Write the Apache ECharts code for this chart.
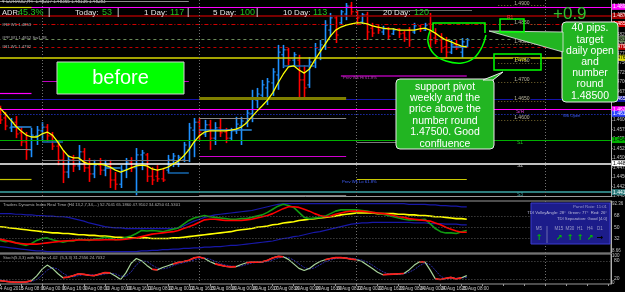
<!DOCTYPE html>
<html>
<head>
<meta charset="utf-8">
<script src="https://cdn.jsdelivr.net/npm/echarts@6/dist/echarts.min.js"></script>
<style>html,body{margin:0;padding:0;background:#000;}#main{width:625px;height:292px;}</style>
</head>
<body>
<div id="main"></div>
<script>
var charts = echarts.init(document.getElementById('main'));

// H4 bars, 4 Aug 16:00 .. 25 Aug 12:00
const xTickLabels = ['4 Aug 2016', '5 Aug 08:00', '8 Aug 00:00', '8 Aug 16:00', '9 Aug 08:00', '10 Aug 00:00', '10 Aug 16:00', '11 Aug 08:00', '12 Aug 00:00', '12 Aug 16:00', '15 Aug 08:00', '16 Aug 00:00', '16 Aug 16:00', '17 Aug 08:00', '18 Aug 00:00', '18 Aug 16:00', '19 Aug 08:00', '22 Aug 00:00', '22 Aug 16:00', '23 Aug 08:00', '24 Aug 00:00', '24 Aug 16:00', '25 Aug 08:00'];

const openP = [1.4626,1.4605,1.4579,1.4594,1.4566,1.4542,1.4521,1.4558,1.4571,1.4581,
  1.4558,1.4531,1.4495,1.4463,1.4495,1.4479,1.4516,1.4474,1.4458,1.4481,
  1.4468,1.4481,1.4442,1.4431,1.4468,1.4489,1.4474,1.4508,1.4508,1.4452,
  1.4452,1.4445,1.4468,1.4495,1.4489,1.4495,1.4521,1.4573,1.4594,1.4563,
  1.4587,1.4552,1.4579,1.4568,1.4552,1.4571,1.4584,1.4594,1.4616,1.4652,
  1.4665,1.4684,1.4697,1.4718,1.4771,1.4784,1.4757,1.4757,1.4705,1.4692,
  1.4750,1.4784,1.4794,1.4836,1.4868,1.4855,1.4878,1.4899,1.4884,1.4857,
  1.4876,1.4841,1.4844,1.4831,1.4841,1.4826,1.4839,1.4828,1.4836,1.4831,
  1.4847,1.4836,1.4852,1.4815,1.4810,1.4792,1.4778,1.4797,1.4778,1.4794];
const highP = [1.4637,1.4621,1.4605,1.4610,1.4581,1.4568,1.4579,1.4584,1.4594,1.4589,
  1.4568,1.4547,1.4521,1.4508,1.4508,1.4534,1.4526,1.4500,1.4495,1.4500,
  1.4495,1.4495,1.4463,1.4481,1.4500,1.4502,1.4526,1.4521,1.4513,1.4476,
  1.4481,1.4474,1.4508,1.4513,1.4508,1.4542,1.4592,1.4605,1.4605,1.4600,
  1.4600,1.4594,1.4605,1.4579,1.4579,1.4608,1.4608,1.4626,1.4679,1.4684,
  1.4705,1.4710,1.4736,1.4797,1.4797,1.4789,1.4778,1.4771,1.4744,1.4765,
  1.4802,1.4810,1.4862,1.4881,1.4873,1.4889,1.4907,1.4910,1.4889,1.4881,
  1.4884,1.4855,1.4849,1.4847,1.4844,1.4841,1.4841,1.4834,1.4844,1.4855,
  1.4849,1.4855,1.4881,1.4841,1.4828,1.4818,1.4810,1.4810,1.4815,1.4815];
const lowP = [1.4589,1.4573,1.4568,1.4552,1.4531,1.4495,1.4502,1.4534,1.4547,1.4542,
  1.4521,1.4481,1.4434,1.4447,1.4463,1.4468,1.4463,1.4437,1.4447,1.4455,
  1.4452,1.4421,1.4416,1.4421,1.4447,1.4463,1.4402,1.4468,1.4437,1.4429,
  1.4437,1.4437,1.4460,1.4476,1.4476,1.4489,1.4489,1.4502,1.4547,1.4555,
  1.4521,1.4534,1.4555,1.4539,1.4547,1.4563,1.4534,1.4581,1.4594,1.4631,
  1.4652,1.4639,1.4663,1.4679,1.4736,1.4744,1.4742,1.4660,1.4660,1.4684,
  1.4736,1.4757,1.4784,1.4818,1.4802,1.4849,1.4862,1.4876,1.4849,1.4852,
  1.4810,1.4818,1.4826,1.4823,1.4810,1.4823,1.4815,1.4805,1.4792,1.4826,
  1.4831,1.4834,1.4789,1.4799,1.4776,1.4763,1.4773,1.4784,1.4763,1.4792];
const closeP = [1.4600,1.4584,1.4594,1.4563,1.4542,1.4521,1.4560,1.4573,1.4581,1.4558,
  1.4531,1.4495,1.4463,1.4495,1.4479,1.4516,1.4474,1.4458,1.4481,1.4468,
  1.4481,1.4442,1.4431,1.4468,1.4489,1.4474,1.4508,1.4513,1.4452,1.4442,
  1.4445,1.4442,1.4495,1.4505,1.4502,1.4534,1.4579,1.4594,1.4568,1.4587,
  1.4552,1.4579,1.4566,1.4552,1.4571,1.4589,1.4597,1.4618,1.4658,1.4668,
  1.4692,1.4700,1.4726,1.4778,1.4784,1.4757,1.4771,1.4705,1.4684,1.4752,
  1.4789,1.4797,1.4849,1.4868,1.4823,1.4884,1.4899,1.4884,1.4868,1.4876,
  1.4831,1.4828,1.4836,1.4839,1.4820,1.4836,1.4826,1.4815,1.4810,1.4847,
  1.4839,1.4849,1.4810,1.4807,1.4789,1.4778,1.4797,1.4789,1.4805,1.4810];
const maP = [1.4631,1.4616,1.4600,1.4584,1.4571,1.4560,1.4555,1.4555,1.4563,1.4568,
  1.4560,1.4542,1.4521,1.4505,1.4500,1.4500,1.4489,1.4484,1.4484,1.4484,
  1.4481,1.4476,1.4468,1.4463,1.4468,1.4474,1.4479,1.4481,1.4479,1.4471,
  1.4468,1.4471,1.4476,1.4484,1.4492,1.4505,1.4521,1.4542,1.4558,1.4568,
  1.4571,1.4571,1.4571,1.4571,1.4573,1.4576,1.4581,1.4592,1.4608,1.4623,
  1.4637,1.4652,1.4671,1.4697,1.4720,1.4739,1.4742,1.4731,1.4723,1.4734,
  1.4757,1.4778,1.4799,1.4820,1.4836,1.4844,1.4849,1.4852,1.4855,1.4855,
  1.4852,1.4847,1.4844,1.4841,1.4839,1.4839,1.4836,1.4836,1.4836,1.4836,
  1.4839,1.4841,1.4836,1.4828,1.4818,1.4810,1.4805,1.4799,1.4794,1.4792];

// pivot / level lines across the whole chart
const levelPrices = [1.4897, 1.4873, 1.4852, 1.4812, 1.4792, 1.4763, 1.4655, 1.4628, 1.4616, 1.4547, 1.4486, 1.4410];
// short lines: [from bar, to bar, price]
const segLevels = [[0,6,1.4897],[0,6,1.4671],[0,6,1.4523],[0,6,1.4445],[8,36,1.4702],[8,36,1.4495],
  [38,66,1.4658],[38,66,1.4605],[38,66,1.4505],[38,66,1.4402],[65,89,1.4715],[68,89,1.4445],[68,76,1.4542],[68,90,1.4889],[0,36,1.4912]];
const dailyOpen = [[2,6,1.4581],[8,12,1.4542],[20,23,1.4474],[32,36,1.4460],[38,48,1.4573],[54,60,1.4742],[86,89,1.4792]];
const roundNumbers = [1.4900, 1.4850, 1.4800, 1.4750, 1.4700, 1.4650, 1.4600];
const weekBars = [8, 38, 68, 104];

// Traders Dynamic Index
const tdiGreen = [29,27,28,25,23,21,24,29,32,33, 30,28,26,28,28,31,30,29,31,32,
  34,33,30,31,34,36,40,45,44,45, 44,43,45,47,49,55,61,65,67,69,
  67,66,65,64,63,63,64,64,66,68, 70,74,79,84,87,85,82,74,66,64,
  65,66,68,72,76,78,78,78,78,77, 76,74,73,71,69,67,65,63,62,62,
  62,63,56,48,43,41,41,40,43,45];
const tdiRed = [31,29,27,25,24,23,23,23,24,25, 26,27,28,28.5,29,29.5,29.5,29.5,29.5,29.5,
  30,30,30,30,31,32,33,35,37,39, 40,41,42,43,45,48,51,54,58,62,
  63,63,62,61,61,61,61,62,63,65, 67,69,72,76,80,83,83,82,79,76,
  72,69,67,68,71,73,75,76,76,76, 75,74,73,72,71,69,67,66,64,63,
  62,61,60,57,54,50,47,44,42,42];
const tdiYellow = [51,50,49,48,47,46,45,44,43,42, 41,41,40,40,39,38,38,37,37,36,
  36,35,34,34,33,33,33,33,33,32, 32,32,32,33,33,34,35,36,37,38,
  39,40,41,42,43,45,46,47,48,50, 51,52,54,55,57,58,59,61,62,63,
  64,65,66,67,68,70,71,72,73,73, 73,73,72,72,72,72,71,71,70,70,
  69,69,68,67,67,66,65,64,64,63];
const tdiUpper = [72,72,72,71,71,70,70,69,69,68, 68,67,67,66,64,62,60,57,55,53,
  51,50,49,49,48,48,48,48,48,48, 48,48,48,48,49,52,56,60,63,66,
  68,70,71,72,73,74,75,76,77,79, 81,83,85,87,88,88,88,88,88,88,
  88,88,88,88,88,88,88,88,88,88, 88,88,88,88,88,88,88,88,87,87,
  87,87,86,86,85,85,84,84,83,83];
const tdiLower = [19,18,17,16,15,14,13,12,12,11, 11,11,11,11,11,11,11,11,11,11,
  11,11,11,11,11,11,11,12,12,13, 13,14,14,15,15,16,16,17,17,18,
  18,19,19,20,21,21,22,23,24,25, 26,27,28,30,32,33,35,36,38,40,
  42,43,45,47,49,51,53,55,56,57, 57,58,58,58,58,58,58,58,58,57,
  57,57,56,56,56,55,55,55,54,54];
const tdiLevels = [32, 50, 68];

// Stochastic
const stochK = [14,12,10,9,9,10,14,30,52,66, 55,38,24,26,31,37,35,32,31,36,
  41,40,30,18,40,72,88,80,65,52, 50,58,64,70,75,78,82,90,93,88,
  78,70,66,62,60,61,68,74,76,76, 77,82,90,95,94,85,70,55,48,55,
  68,78,84,88,91,91,89,86,84,78, 66,55,42,34,35,36,37,38,50,66,
  77,77,50,20,18,22,25,20,24,31];
const stochD = [16,14,12,10,9,9,11,18,32,49, 58,53,39,29,27,31,34,35,33,33,
  36,39,37,29,29,43,67,80,78,66, 56,53,57,64,70,74,78,83,88,90,
  86,79,71,66,63,61,63,68,73,75, 76,78,83,89,93,91,83,70,58,53,
  57,67,77,83,88,90,90,89,86,83, 76,66,54,44,37,35,36,37,42,51,
  64,73,68,49,29,20,22,22,23,25];
const stochLevels = [20, 80];

const barCount = 117;
const cats = [];
for (let i = 0; i < barCount; i++) cats.push('b' + i);

const ohlc = openP.map((o, i) => [i, o, closeP[i], lowP[i], highP[i]]);

const levelColors = ['#ff00ff', '#a00000', '#d00000', '#6a8a5a', '#c00000', '#d8d800', '#1414a8', '#ff00ff', '#2a40ff', '#00b000', '#ffffff', '#2e7d7d'];
const levelTypes = ['solid', 'solid', [4, 2, 1, 2], [3, 3], [3, 3], 'solid', 'solid', 'solid', [1, 2], 'solid', 'solid', 'solid'];
const levelWidths = [1.2, 1.5, 1, 1, 1, 1.5, 1, 1.2, 1, 1.2, 1.5, 2];
const levelText = ['#fff', '#fff', '#fff', '#000', '#fff', '#000', '#fff', '#fff', '#fff', '#000', '#000', '#fff'];
const segColors = ['#d8d800', '#ff00ff', '#8a8a8a', '#c8c800', '#c000c0', '#7a7a7a', '#7f7f00', '#8a8a8a', '#d000d0', '#7a7a7a', '#800080', '#c8c800', '#7a7a7a', '#6a6a6a', '#8a8a8a'];
const segWidths = [1.2, 1.2, 1, 1.2, 1.2, 1.2, 3, 1.2, 1.2, 1.2, 2, 1.2, 1, 1, 1];

var mainLines = [];
levelPrices.forEach(function (p, i) {
  mainLines.push({
    yAxis: p,
    lineStyle: {color: levelColors[i], type: levelTypes[i], width: levelWidths[i]},
    label: {show: true, position: 'end', distance: 1, formatter: p.toFixed(5), fontSize: 5,
      fontFamily: 'Liberation Sans', padding: [1, 1, 0, 1], color: levelText[i], backgroundColor: levelColors[i]}
  });
});
segLevels.forEach(function (s, i) {
  mainLines.push([
    {coord: ['b' + s[0], s[2]], lineStyle: {color: segColors[i], type: 'solid', width: segWidths[i]}},
    {coord: ['b' + s[1], s[2]]}
  ]);
});
dailyOpen.forEach(function (s, i) {
  mainLines.push([
    {coord: ['b' + s[0], s[2]], lineStyle: {color: i % 2 ? '#1668b0' : '#2a8ae0', type: 'solid', width: 1.5}},
    {coord: ['b' + s[1], s[2]]}
  ]);
});
roundNumbers.forEach(function (p) {
  mainLines.push([
    {coord: ['b95', p], lineStyle: {color: '#7a6a30', type: [1, 2], width: 1},
      label: {show: true, position: 'middle', distance: 0, formatter: p.toFixed(4), fontSize: 5,
        fontFamily: 'Liberation Sans', color: '#bcb8a0', backgroundColor: '#000', padding: [0, 1]}},
    {coord: ['b104', p]}
  ]);
});
weekBars.forEach(function (b) {
  mainLines.push({xAxis: 'b' + b, lineStyle: {color: '#707070', type: [1, 2], width: 1}});
});

function vLines() {
  return weekBars.map(function (b) {
    return {xAxis: 'b' + b, lineStyle: {color: '#707070', type: [1, 2], width: 1}};
  });
}
function hLevels(levels) {
  return levels.map(function (v) {
    return {yAxis: v, lineStyle: {color: '#5a5a5a', type: [1, 2], width: 1},
      label: {show: true, position: 'end', distance: 3, formatter: String(v), fontSize: 5, color: '#c0c0c0'}};
  });
}

// red where the stochastic flattens
var stochFlat = stochK.map(function () { return null; });
stochK.forEach(function (v, i) {
  if (i > 0 && Math.abs(v - stochK[i - 1]) <= 5) {
    stochFlat[i] = v;
    stochFlat[i - 1] = stochK[i - 1];
  }
});

var F = 'Liberation Sans';
var graphics = [];
function txt(x, y, text, size, color, extra) {
  var st = {text: text, x: x, y: y, fill: color, font: size + 'px "' + F + '"', verticalAlign: 'middle'};
  if (extra) Object.assign(st, extra);
  graphics.push({type: 'text', z: 100, silent: true, style: st});
}

// header
txt(2, 2, '\u25be EURAUD,H4  1.48217 1.48365 1.48136 1.48283', 4.6, '#c0c0c0');
txt(2, 25, '#R2 W1 1.4853', 4.2, '#b0b0b0');
txt(2, 38, '#PP W1 1.4812 Sw1.48', 4.2, '#b0b0b0');
txt(2, 47, '#R1 W1 1.4792', 4.2, '#b0b0b0');
[['ADR:', 2, '#e6e6e6', 7.5], ['45.3%', 18, '#20c020', 9], ['|', 48, '#e6e6e6', 9], ['Today:', 75, '#e6e6e6', 8], ['53', 102, '#20c020', 9],
 ['|', 117, '#e6e6e6', 9], ['1 Day:', 144, '#e6e6e6', 8], ['117', 170, '#20c020', 9], ['|', 187, '#e6e6e6', 9],
 ['5 Day:', 213, '#e6e6e6', 8], ['100', 240, '#20c020', 9], ['|', 256, '#e6e6e6', 9], ['10 Day:', 283, '#e6e6e6', 8],
 ['113', 313, '#20c020', 9], ['20 Day:', 383, '#e6e6e6', 8], ['120', 414, '#20c020', 9]].forEach(function (h) {
  txt(h[1], 13, h[0], h[3], h[2]);
});
txt(553, 14, '+0.9', 17, '#2fbf2f');

// pivot tags
txt(507, 18, 'R1', 5, '#ff3030');
txt(515, 60, 'Pivot', 5, '#d8d800');
txt(516, 112, 'S/R', 5, '#d040d0');
txt(517, 143, 'S1', 5, '#20c020');
txt(517, 166, 'S2', 5, '#c0c0c0');
txt(517, 195, 'S3', 5, '#3aa0a0');
txt(343, 78, 'Prev Wk Hi 61.8%', 4.2, '#b040b0');
txt(342, 182, 'Prev Wk Lo 61.8%', 4.2, '#4060ff');
txt(563, 116, 'Wk Open', 4.2, '#4060ff');

// callouts
graphics.push({type: 'rect', z: 90, shape: {x: 57, y: 62, width: 127, height: 32},
  style: {fill: '#00ff00', stroke: '#d0d0d0', lineWidth: 1}});
txt(120.5, 78.5, 'before', 20, '#ffffff', {align: 'center'});

graphics.push({type: 'rect', z: 90, shape: {x: 396, y: 79, width: 98, height: 70, r: 4},
  style: {fill: '#22b522', stroke: '#e8e8e8', lineWidth: 1}});
graphics.push({type: 'polygon', z: 91, shape: {points: [[483, 80], [493, 80], [503, 72]]},
  style: {fill: '#22b522', stroke: '#e8e8e8', lineWidth: 1}});
graphics.push({type: 'text', z: 100, silent: true, style: {
  text: 'support pivot\nweekly and the\nprice above the\nnumber round\n1.47500. Good\nconfluence',
  x: 445, y: 81, align: 'center', verticalAlign: 'top', lineHeight: 11.4, fill: '#fff', font: '10.5px "' + F + '"'}});

graphics.push({type: 'rect', z: 90, shape: {x: 562, y: 22, width: 56, height: 80, r: 4},
  style: {fill: '#22b522', stroke: '#e8e8e8', lineWidth: 1}});
graphics.push({type: 'polygon', z: 91, shape: {points: [[563, 32], [563, 52], [489, 31]]},
  style: {fill: '#22b522', stroke: '#e8e8e8', lineWidth: 0.8}});
graphics.push({type: 'text', z: 100, silent: true, style: {
  text: '40 pips.\ntarget\ndaily open\nand\nnumber\nround\n1.48500',
  x: 590, y: 23, align: 'center', verticalAlign: 'top', lineHeight: 11.2, fill: '#fff', font: '10.5px "' + F + '"'}});

// hand drawn marks
[[500, 19, 24, 13], [494, 54, 47, 16]].forEach(function (r) {
  graphics.push({type: 'rect', z: 92, shape: {x: r[0], y: r[1], width: r[2], height: r[3]},
    style: {fill: null, stroke: '#00ff00', lineWidth: 1.5}});
});
graphics.push({type: 'polyline', z: 92, shape: {points: [[433, 31], [433, 23], [485, 23], [485, 33]]},
  style: {stroke: '#00ff00', lineWidth: 1.5, fill: null}});
graphics.push({type: 'polyline', z: 92, shape: {smooth: 0.4,
  points: [[430, 31], [428, 42], [434, 54], [446, 61], [462, 63], [474, 58], [482, 47], [486, 35]]},
  style: {stroke: '#00ff00', lineWidth: 1.5, fill: null}});

// TDI dashboard
graphics.push({type: 'rect', z: 90, shape: {x: 531, y: 203, width: 79, height: 41},
  style: {fill: '#1c1c8a', stroke: '#3a3ad0', lineWidth: 1}});
txt(607, 207, 'Panel Rate: 11:01', 4.3, '#9a9ac8', {align: 'right'});
txt(607, 213, 'TDI VolleyAngle: 28\u00b0  Green: 77\u00b0  Red: 26\u00b0', 4.2, '#b8b8d8', {align: 'right'});
txt(607, 219, 'TDI Separation: Good [4.0]', 4.2, '#b8b8d8', {align: 'right'});
graphics.push({type: 'line', z: 91, shape: {x1: 547, y1: 226, x2: 547, y2: 243}, style: {stroke: '#6a6ab0', lineWidth: 1}});
[['M5', 539, '\u2191', '#00c000'], ['M15', 559, '\u2197', '#00c000'], ['M30', 570, '\u2191', '#00c000'],
 ['H1', 580, '\u2191', '#00c000'], ['H4', 590, '\u2197', '#00c000'], ['D1', 600, '\u2192', '#000000']].forEach(function (t) {
  txt(t[1], 229, t[0], 4.5, '#9a9ac8', {align: 'center'});
  txt(t[1], 238, t[2], 8, t[3], {align: 'center', font: 'bold 8px "DejaVu Sans"'});
});

// subwindow titles and scale ends
txt(3, 205, 'Traders Dynamic Index Real Time (H4 13,2,7,34,...) 52.7041 65.1860 47.9102 34.6250 61.5301', 4.2, '#b0b0b0');
txt(3, 257.5, 'Stoch(5,3,3) with Slope v1.02  (5,3,3) 31.2556 24.7032', 4.2, '#b0b0b0');
txt(612, 203.5, '92.36', 4.5, '#c0c0c0');
txt(612, 251, '8.66', 4.5, '#c0c0c0');
txt(612, 256, '100', 4.5, '#c0c0c0');
txt(612, 282.5, '0', 4.5, '#c0c0c0');

function catAxis(idx, showLabels) {
  return {
    type: 'category', gridIndex: idx, data: cats, boundaryGap: true,
    axisLine: {show: idx === 0, lineStyle: {color: '#9a9a9a'}},
    axisTick: {show: showLabels, interval: 3, length: 2, alignWithLabel: true, lineStyle: {color: '#9a9a9a'}},
    splitLine: {show: false},
    axisLabel: showLabels ? {
      show: true, interval: 0, align: 'left', margin: 2, fontSize: 4.6, fontFamily: F, color: '#c8c8c8',
      formatter: function (v, i) { return i % 4 === 0 && xTickLabels[i / 4] ? xTickLabels[i / 4] : ''; }
    } : {show: false}
  };
}

const option = {
  backgroundColor: '#000',
  animation: false,
  grid: [
    {left: -2.6, top: 0, width: 613.6, height: 196, show: false, outerBoundsMode: 'none'},
    {left: -2.6, top: 201, width: 613.6, height: 52, show: true, borderColor: '#9a9a9a', borderWidth: 1, backgroundColor: 'transparent', outerBoundsMode: 'none'},
    {left: -2.6, top: 254, width: 613.6, height: 30, show: true, borderColor: '#9a9a9a', borderWidth: 1, backgroundColor: 'transparent', outerBoundsMode: 'none'}
  ],
  xAxis: [catAxis(0, false), catAxis(1, false), catAxis(2, true)],
  yAxis: [
    {type: 'value', gridIndex: 0, position: 'right', min: 1.44, max: 1.4915, interval: 0.0025, scale: true,
      axisLine: {show: true, lineStyle: {color: '#b0b0b0'}}, axisTick: {show: true, length: 1.5, lineStyle: {color: '#b0b0b0'}},
      splitLine: {show: false},
      axisLabel: {margin: 2, fontSize: 4.6, fontFamily: F, color: '#c0c0c0', showMaxLabel: false,
        formatter: function (v) { return v.toFixed(5); }}},
    {type: 'value', gridIndex: 1, position: 'right', min: 8.7, max: 92.3,
      axisLine: {show: true, lineStyle: {color: '#b0b0b0'}}, axisTick: {show: false}, splitLine: {show: false}, axisLabel: {show: false}},
    {type: 'value', gridIndex: 2, position: 'right', min: 3, max: 103,
      axisLine: {show: true, lineStyle: {color: '#b0b0b0'}}, axisTick: {show: false}, splitLine: {show: false}, axisLabel: {show: false}}
  ],
  graphic: graphics,
  series: [
    {
      name: 'EURAUD', type: 'custom', xAxisIndex: 0, yAxisIndex: 0,
      encode: {x: 0, y: [1, 2, 3, 4]},
      data: ohlc,
      renderItem: function (params, api) {
        var i = api.value(0);
        var o = api.coord([i, api.value(1)]);
        var c = api.coord([i, api.value(2)]);
        var l = api.coord([i, api.value(3)]);
        var h = api.coord([i, api.value(4)]);
        var col = api.value(2) >= api.value(1) ? '#1e90ff' : '#ff0000';
        var px = Math.round(o[0]) + 0.5;
        return {
          type: 'group',
          children: [
            {type: 'line', shape: {x1: px, y1: h[1], x2: px, y2: l[1]}, style: {stroke: col, lineWidth: 1.6}},
            {type: 'line', shape: {x1: px - 2.2, y1: o[1], x2: px, y2: o[1]}, style: {stroke: col, lineWidth: 1}},
            {type: 'line', shape: {x1: px, y1: c[1], x2: px + 2.2, y2: c[1]}, style: {stroke: col, lineWidth: 1}}
          ]
        };
      }
    },
    {
      name: 'MA', type: 'line', xAxisIndex: 0, yAxisIndex: 0, data: maP, symbol: 'none',
      lineStyle: {color: '#ffff00', width: 1.3}, z: 5,
      markLine: {silent: true, precision: 5, symbol: ['none', 'none'], label: {show: false}, data: mainLines}
    },
    {type: 'line', xAxisIndex: 1, yAxisIndex: 1, data: tdiUpper, symbol: 'none', lineStyle: {color: '#1818a8', width: 1.2},
      markLine: {silent: true, precision: 2, symbol: ['none', 'none'], label: {show: false}, data: hLevels(tdiLevels).concat(vLines())}},
    {type: 'line', xAxisIndex: 1, yAxisIndex: 1, data: tdiLower, symbol: 'none', lineStyle: {color: '#1818a8', width: 1.2}},
    {type: 'line', xAxisIndex: 1, yAxisIndex: 1, data: tdiYellow, symbol: 'none', lineStyle: {color: '#ffff00', width: 1.6}},
    {type: 'line', xAxisIndex: 1, yAxisIndex: 1, data: tdiGreen, symbol: 'none', lineStyle: {color: '#119a11', width: 1.6}},
    {type: 'line', xAxisIndex: 1, yAxisIndex: 1, data: tdiRed, symbol: 'none', lineStyle: {color: '#ff0000', width: 1.6}},
    {type: 'line', xAxisIndex: 2, yAxisIndex: 2, data: stochD, symbol: 'none', lineStyle: {color: '#2a2aa8', width: 1, type: [2, 1]},
      markLine: {silent: true, precision: 2, symbol: ['none', 'none'], label: {show: false}, data: hLevels(stochLevels).concat(vLines())}},
    {type: 'line', xAxisIndex: 2, yAxisIndex: 2, data: stochK, symbol: 'none', lineStyle: {color: '#a8d49a', width: 1.2}},
    {type: 'line', xAxisIndex: 2, yAxisIndex: 2, data: stochFlat, symbol: 'none', connectNulls: false, lineStyle: {color: '#ff1a1a', width: 1.6}}
  ]
};
charts.setOption(option);
</script>
</body>
</html>
